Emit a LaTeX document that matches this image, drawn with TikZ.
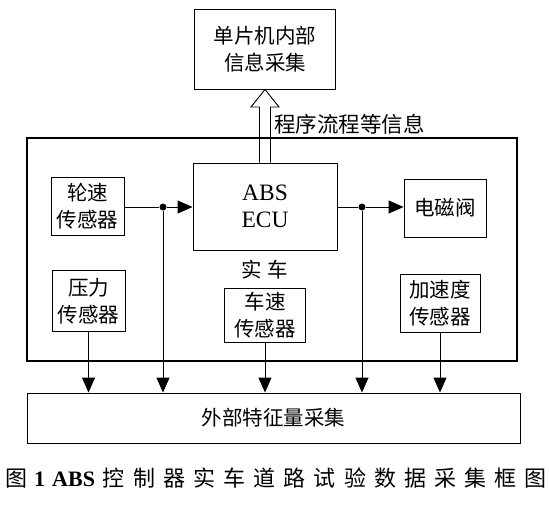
\documentclass[tikz,border=0pt]{standalone}
\usepackage{fontspec}
\setmainfont{Liberation Serif}
\newfontfamily\cjk{Noto Sans CJK SC}
\usetikzlibrary{arrows.meta,calc}
\begin{document}
\begin{tikzpicture}[x=1pt,y=-1pt,
  box/.style={draw, line width=0.9pt, inner sep=0pt, align=center,
    font=\cjk\fontsize{20.5}{27}\selectfont},
  arr/.style={-{Triangle[length=15pt,width=13pt]}, line width=0.9pt},
  ln/.style={line width=0.9pt},
  jdot/.style={circle, fill, inner sep=0pt, minimum size=7pt},
  lbl/.style={inner sep=0pt, font=\cjk\fontsize{20.5}{24}\selectfont}]
\useasboundingbox (0,0) rectangle (549,509);
% outer box
\node[draw, line width=1.1pt, minimum width=490pt, minimum height=223pt, inner sep=0pt] (car) at (272,249.5) {};
% top box
\node[box, minimum width=141pt, minimum height=80pt] (mcu) at (265,49) {单片机内部\\信息采集};
% ECU
\node[box, minimum width=144pt, minimum height=87pt, font=\fontsize{23.5}{27}\selectfont] (ecu) at (265,206.5) {ABS\\ECU};
% sensors
\node[box, minimum width=73pt, minimum height=58pt] (lun) at (87.5,206) {轮速\\传感器};
\node[box, minimum width=82pt, minimum height=58pt] (dc) at (445,208) {电磁阀};
\node[box, minimum width=73pt, minimum height=61pt] (yl) at (88.5,301) {压力\\传感器};
\node[box, minimum width=81pt, minimum height=54pt] (cs) at (265,315) {车速\\传感器};
\node[box, minimum width=80pt, minimum height=58pt] (js) at (440,303.5) {加速度\\传感器};
% bottom box
\node[box, minimum width=493pt, minimum height=50pt] (bot) at (273.5,418) {外部特征量采集};
% labels
\node[lbl] (carlbl) at (265,270) {实\hspace{6pt}车};
\node[lbl, anchor=west, font=\cjk\fontsize{21.5}{24}\selectfont] (info) at (274,124) {程序流程等信息};
% junctions
\node[jdot] (d1) at (163,207) {};
\node[jdot] (d2) at (362,207) {};
% connections
\draw[ln] (lun.east |- d1) -- (d1);
\draw[arr] (d1) -- (d1 -| ecu.west);
\draw[ln] (ecu.east |- d2) -- (d2);
\draw[arr] (d2) -- (d2 -| dc.west);
\draw[arr] (yl.south) -- (yl.south |- bot.north);
\draw[arr] (d1) -- (d1 |- bot.north);
\draw[arr] (cs.south) -- (cs.south |- bot.north);
\draw[arr] (d2) -- (d2 |- bot.north);
\draw[arr] (js.south) -- (js.south |- bot.north);
% hollow arrow
\coordinate (hb) at (265,107);
\draw[ln, line join=miter] ([xshift=-5.5pt]ecu.north) -- ([xshift=-5.5pt]hb) -- ([xshift=-14pt]hb)
  -- (mcu.south) -- ([xshift=14pt]hb) -- ([xshift=5.5pt]hb) -- ([xshift=5.5pt]ecu.north);
% caption
\node[anchor=west, inner sep=0pt, font=\fontsize{22}{26}\selectfont] (cap) at (5,478)
  {{\cjk 图}\hspace{7pt}\textbf{1}\hspace{7pt}\textbf{ABS}\hspace{8pt}{\cjk\addfontfeature{LetterSpace=37}控制器实车道路试验数据采集框图}};
\end{tikzpicture}
\end{document}
